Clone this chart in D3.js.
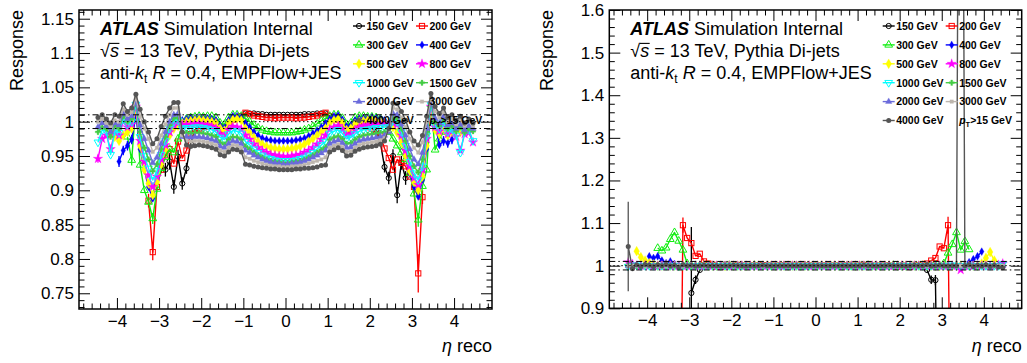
<!DOCTYPE html>
<html>
<head>
<meta charset="utf-8">
<script src="https://cdn.jsdelivr.net/npm/d3@7"></script>
<style>
  body { margin: 0; background: #fff; }
  svg text { font-family: "Liberation Sans", Arial, Helvetica, sans-serif; }
</style>
</head>
<body>
<svg id="chart" width="1027" height="363"></svg>
<script>
const _ = null;

// eta bin centres (0.1 wide bins)
const etaCenters = [
  -4.45,-4.35,-4.25,-4.15,-4.05,-3.95,-3.85,-3.75,-3.65,-3.55,
  -3.45,-3.35,-3.25,-3.15,-3.05,-2.95,-2.85,-2.75,-2.65,-2.55,
  -2.45,-2.35,-2.25,-2.15,-2.05,-1.95,-1.85,-1.75,-1.65,-1.55,
  -1.45,-1.35,-1.25,-1.15,-1.05,-0.95,-0.85,-0.75,-0.65,-0.55,
  -0.45,-0.35,-0.25,-0.15,-0.05, 0.05, 0.15, 0.25, 0.35, 0.45,
   0.55, 0.65, 0.75, 0.85, 0.95, 1.05, 1.15, 1.25, 1.35, 1.45,
   1.55, 1.65, 1.75, 1.85, 1.95, 2.05, 2.15, 2.25, 2.35, 2.45,
   2.55, 2.65, 2.75, 2.85, 2.95, 3.05, 3.15, 3.25, 3.35, 3.45,
   3.55, 3.65, 3.75, 3.85, 3.95, 4.05, 4.15, 4.25, 4.35, 4.45
];

const ptLabels = ["150 GeV","200 GeV","300 GeV","400 GeV","500 GeV","800 GeV",
                  "1000 GeV","1500 GeV","2000 GeV","3000 GeV","4000 GeV"];

const xTicks = [-4,-3,-2,-1,0,1,2,3,4];
const yTicksResp = [0.75,0.8,0.85,0.9,0.95,1,1.05,1.1,1.15];
const yTicksClos = [0.9,1,1.1,1.2,1.3,1.4,1.5,1.6];
const bandLines = [0.99, 1.01];
const unityLine = 1;

// ---------- response after EMPFlow+JES ----------
const resp150 = [_,_,_,_,_,_,_,_,_,_, _,_,_,_,_,
  0.935,0.930,0.942,0.905,0.949, 0.910,0.932,0.968,0.988,0.995, 0.998,0.999,1.000,0.999,0.994,
  0.992,1.000,1.004,1.006,1.008, 1.012,1.012,1.012,1.011,1.011, 1.010,1.010,1.010,1.010,1.010,
  1.010,1.010,1.010,1.010,1.011, 1.011,1.011,1.012,1.012,1.012, 1.008,1.006,1.004,1.000,0.992,
  0.994,0.999,1.000,0.999,0.998, 0.994,0.988,0.970,0.934,0.918, 0.950,0.893,0.940,0.918,0.930,
  _,_,_,_,_,_,_,_,_,_, _,_,_,_,_];
const resp200 = [_,_,_,_,_,_,_,_,_,_, _,_,
  0.885,0.810,0.905,0.930,0.951, 0.960,0.939,0.971,0.947,0.958, 0.982,0.988,0.990,0.992,0.993,
  0.994,0.994,0.988,0.985,0.995, 1.003,1.006,1.008,1.013,1.011, 1.009,1.008,1.007,1.006,1.006,
  1.005,1.006,1.006,
  1.006,1.006,1.005,1.006,1.006, 1.007,1.008,1.009,1.011,1.013, 1.008,1.005,1.003,0.996,0.986,
  0.988,0.993,0.994,0.993,0.992, 0.990,0.986,0.980,0.961,0.947, 0.930,0.945,0.940,0.935,0.920,
  0.905,0.779,0.890,
  _,_,_,_,_,_,_,_,_,_, _,_];
const resp300 = [_,_,_,_,_,_,_,
  0.978,0.944,1.025,0.937,0.900, 0.883,0.859,0.902,0.932,0.948, 0.960,0.955,0.975,0.995,1.004,
  1.006,1.007,1.008,1.007,1.008, 1.008,1.006,0.998,0.996,1.006, 1.010,1.010,1.008,1.005,1.000,
  0.995,0.991,0.988,0.986,0.985, 0.984,0.984,0.984,
  0.984,0.984,0.985,0.986,0.988, 0.990,0.993,0.997,1.001,1.005, 1.008,1.010,1.010,1.005,0.996,
  0.998,1.006,1.008,1.008,1.007, 1.007,1.006,1.004,1.000,0.985, 0.975,0.965,0.955,0.945,0.925,
  0.895,0.857,0.906,0.930,1.025, 0.959,0.975,0.985,
  _,_,_,_,_,_,_];
const resp400 = [_,_,_,_,_,
  0.942,0.958,0.965,0.974,1.010, 0.960,0.930,0.905,0.888,0.918, 0.945,0.965,0.982,0.993,0.998,
  1.002,1.004,1.005,1.005,1.006, 1.005,1.005,1.004,1.002,0.994, 0.991,1.002,1.008,1.008,1.006,
  0.998,0.992,0.985,0.980,0.976, 0.974,0.973,0.972,0.972,0.972,
  0.972,0.972,0.973,0.974,0.976, 0.979,0.983,0.987,0.992,0.998, 1.004,1.008,1.009,1.003,0.993,
  0.995,1.002,1.004,1.005,1.005, 1.006,1.005,1.004,1.002,0.998, 0.994,0.985,0.970,0.950,0.925,
  0.905,0.891,0.915,0.960,1.015, 0.998,0.966,0.972,0.969,0.974,
  _,_,_,_,_];
const resp500 = [_,_,
  0.990,0.982,0.978,0.972,0.980, 0.985,0.990,1.018,0.965,0.930, 0.910,0.893,0.912,0.938,0.960,
  0.980,0.990,0.994,0.998,1.000, 1.001,1.002,1.003,1.002,1.001, 1.000,0.998,0.990,0.987,0.998,
  1.003,1.004,1.002,0.990,0.984, 0.977,0.971,0.967,0.964,0.962, 0.961,0.960,0.960,
  0.960,0.961,0.962,0.964,0.967, 0.971,0.975,0.980,0.985,0.990, 0.998,1.002,1.004,0.998,0.988,
  0.990,0.997,1.000,1.001,1.002, 1.002,1.001,1.000,0.998,0.995, 0.992,0.984,0.970,0.950,0.928,
  0.912,0.900,0.920,0.965,1.018, 0.988,0.982,0.990,0.980,0.985, 0.990,0.985,0.988,
  _,_];
const resp800 = [
  0.946,0.975,0.980,0.960,0.985, 0.980,1.000,0.992,0.996,1.022, 0.972,0.942,0.922,0.905,0.920,
  0.945,0.966,0.985,0.995,0.998, 0.995,0.996,0.996,0.997,0.997, 0.996,0.995,0.993,0.990,0.982,
  0.979,0.988,0.993,0.992,0.989, 0.980,0.974,0.967,0.962,0.958, 0.955,0.952,0.951,0.950,0.949,
  0.949,0.950,0.951,0.952,0.955, 0.958,0.962,0.967,0.974,0.980, 0.989,0.992,0.994,0.989,0.980,
  0.982,0.988,0.992,0.994,0.995, 0.996,0.997,0.997,0.997,0.996, 0.998,0.996,0.980,0.958,0.935,
  0.918,0.908,0.930,0.975,1.022, 0.992,0.986,0.996,0.982,0.986, 0.978,0.958,0.982,0.984,0.970];
const resp1000 = [
  0.970,0.988,0.986,0.952,0.986, 0.984,1.004,0.996,1.000,1.025, 0.978,0.950,0.932,0.915,0.928,
  0.952,0.972,0.990,1.000,1.002, 0.990,0.991,0.991,0.992,0.992, 0.991,0.990,0.988,0.985,0.977,
  0.974,0.982,0.987,0.986,0.983, 0.971,0.966,0.960,0.955,0.951, 0.948,0.946,0.944,0.943,0.943,
  0.943,0.943,0.944,0.946,0.948, 0.951,0.955,0.960,0.966,0.971, 0.983,0.986,0.988,0.983,0.975,
  0.977,0.982,0.986,0.988,0.989, 0.990,0.991,0.991,0.992,0.992, 1.002,1.000,0.985,0.965,0.942,
  0.925,0.915,0.935,0.980,1.025, 0.995,0.990,1.000,0.985,0.990, 0.980,0.955,0.985,0.988,0.972];
const resp1500 = [
  0.985,0.992,0.990,0.978,0.994, 0.990,1.008,1.000,1.004,1.028, 0.985,0.962,0.945,0.928,0.938,
  0.960,0.978,0.995,1.005,1.006, 0.984,0.984,0.983,0.984,0.984, 0.983,0.982,0.980,0.978,0.970,
  0.967,0.974,0.978,0.977,0.974, 0.964,0.960,0.955,0.951,0.948, 0.945,0.943,0.942,0.941,0.940,
  0.940,0.941,0.942,0.943,0.945, 0.948,0.951,0.955,0.959,0.963, 0.974,0.977,0.979,0.975,0.968,
  0.969,0.974,0.978,0.980,0.981, 0.982,0.983,0.984,0.985,0.985, 1.006,1.004,0.990,0.972,0.950,
  0.935,0.926,0.945,0.985,1.028, 1.000,0.994,1.004,0.990,0.994, 0.986,0.992,0.984,0.990,0.986];
const resp2000 = [
  0.992,0.998,0.994,0.985,0.998, 0.995,1.012,1.004,1.008,1.030, 0.995,0.975,0.958,0.940,0.948,
  0.968,0.985,1.000,1.010,1.012, 0.978,0.978,0.977,0.978,0.978, 0.977,0.976,0.974,0.972,0.964,
  0.962,0.968,0.972,0.971,0.968, 0.958,0.955,0.951,0.948,0.945, 0.943,0.941,0.940,0.939,0.938,
  0.938,0.939,0.940,0.941,0.943, 0.945,0.948,0.951,0.954,0.958, 0.968,0.971,0.973,0.969,0.962,
  0.963,0.968,0.972,0.974,0.975, 0.976,0.977,0.978,0.980,0.985, 1.012,1.010,0.996,0.980,0.960,
  0.945,0.938,0.955,0.990,1.030, 1.005,0.998,1.008,0.995,0.998, 0.990,0.996,0.988,0.994,0.990];
const resp3000 = [
  1.000,1.004,0.998,0.992,1.002, 1.000,1.018,1.010,1.014,1.035, 1.008,0.990,0.975,0.956,0.962,
  0.980,0.996,1.010,1.020,1.020, 0.980,0.972,0.971,0.972,0.972, 0.971,0.970,0.968,0.966,0.958,
  0.956,0.962,0.966,0.965,0.962, 0.948,0.946,0.943,0.941,0.939, 0.937,0.936,0.935,0.935,0.934,
  0.934,0.935,0.935,0.936,0.937, 0.939,0.941,0.943,0.945,0.948, 0.962,0.965,0.967,0.963,0.956,
  0.957,0.962,0.966,0.968,0.969, 0.970,0.971,0.973,0.976,0.988, 1.020,1.018,1.006,0.992,0.975,
  0.962,0.955,0.970,1.000,1.035, 1.015,1.006,1.014,1.000,1.004, 0.996,1.002,0.994,1.000,0.994];
const resp4000 = [
  1.006,1.010,1.004,0.998,1.010, 1.008,1.026,1.015,1.020,1.040, 1.018,1.000,0.985,0.968,0.975,
  0.993,1.008,1.020,1.028,1.028, 0.985,0.966,0.964,0.965,0.966, 0.965,0.964,0.962,0.960,0.952,
  0.950,0.956,0.960,0.959,0.956, 0.938,0.937,0.935,0.934,0.933, 0.932,0.931,0.931,0.930,0.930,
  0.930,0.930,0.931,0.931,0.932, 0.932,0.933,0.934,0.936,0.937, 0.956,0.959,0.962,0.958,0.950,
  0.951,0.957,0.960,0.962,0.963, 0.964,0.965,0.967,0.972,0.990, 1.027,1.026,1.015,1.002,0.985,
  0.972,0.966,0.980,1.008,1.041, 1.022,1.012,1.020,1.006,1.010, 1.002,1.008,0.998,1.004,0.998];

// ---------- closure after the residual correction ----------
const clos150 = [_,_,_,_,_,_,_,_,_,_, _,_,_,_,_,
  0.936,0.967,0.990,1.002,1.003, 1.001,0.999,1,1.001,1, 0.999,1,1.001,1,0.999,
  1,1.001,1,1,0.999, 1,1,1.001,1,1, 1,0.999,1,1,1,
  1,1,1,0.999,1, 1,1.001,1,1,1, 1,1,0.999,1,1.001,
  1,1,0.999,1,1, 1.001,1,1,0.999,1.001, 1.003,0.990,0.967,0.966,0.300,
  _,_,_,_,_,_,_,_,_,_, _,_,_,_,_];
const clos200 = [_,_,_,_,_,_,_,_,_,_, _,_,
  0.200,1.095,1.065,1.053,1.023, 1.028,1.010,1.005,1.002,0.998, 0.997,1,0.999,
  1,1.001,1,0.999,1, 1,1,1.001,1,1, 1,1,1,1,1, 1,1,1,1,1,
  1,1,1,1,1, 1,1,1,1,1, 1,1.001,1,1,0.999, 1,1,1,0.999,0.998,
  1,0.998,0.997,1,1.001, 1.002,1.005,1.012,1.018,1.045, 1.041,1.095,0.200,
  _,_,_,_,_,_,_,_,_,_, _,_];
const clos300 = [_,_,_,_,_,_,_,
  1.041,1.035,1.042,1.062,1.078, 1.058,1.037,1.005,1.000,0.998,
  0.999,1,1.001,1,0.999, 1,1,1.001,1,1, 0.999,1,1,1.001,1, 1,1,1,0.999,1, 1,1,1,1,1, 1,1,1,
  1,1,1,1,1, 1,1,1,1,1, 1,1,1.001,1,0.999, 1,1,1,1.001,1, 1,1,0.999,1,1, 1,1,1.001,1.002,1,
  1.005,1.030,1.050,1.078,1.037, 1.057,1.038,
  _,_,_,_,_,_,_,_];
const clos400 = [_,_,_,_,_,
  1.022,1.018,1.022,1.012,1.006, 1.010,1.004,1.001,1.000,
  1,1,0.999,1,1, 1.001,1,1,1,0.999, 1,1,1,1.001,1, 1,1,1,1,0.999, 1,1,1,1,1, 1,1,1,1,1, 1,
  1,1,1,1,1, 1,1,1,1,1, 1,1,1,1,1, 1.001,1,1,1,1, 0.999,1,1,1,1, 1,1,1,1.001,1, 1,1,1,1,
  1.000,1.002,1.008,1.015,1.022, 1.033,
  _,_,_,_,_];
const clos500 = [_,_,
  1.034,1.020,1.012,1.006,1.003,
  1,1,1.001,1,1, 0.999,1,1,1,1, 1,1.001,1,1,1, 1,0.999,1,1,1, 1,1,1,1,1, 1,1,1,1,1, 1,1,1,1,1, 1,1,1,
  1,1,1,1,1, 1,1,1,1,1, 1,1,1,1,1, 1,1,1,1,1, 1,1,1,1,1, 1.001,1,1,1,0.999, 1,1,1,1,1, 1,1,1,1,
  1.005,1.018,1.032,1.012,
  _,_];
const clos800 = [
  1.008,1.004,1,1,1.001, 1,1,0.999,1,1, 1,1,1,1,1, 1,1,1,1,1, 1,1,1,1,1, 1,1,1,1,1,
  1,1,1,1,1, 1,1,1,1,1, 1,1,1,1,1,
  1,1,1,1,1, 1,1,1,1,1, 1,1,1,1,1, 1,1,1,1,1, 1,1,1,1,1, 1,1,1,1,1,
  1,1,1,1,0.990, 1,1,1,1,1, 1,1,1,1.002,1.005];
const clos1000 = [
  0.998,1,1.001,1,1, 1,1,1,1,1, 1,1,0.999,1,1, 1,1,1,1,1, 1,1,1,1,1, 1,1,1,1,1,
  1,1,1,1,1, 1,1,1,1,1, 1,1,1,1,1,
  1,1,1,1,1, 1,1,1,1,1, 1,1,1,1,1, 1,1,1,1,1, 1,1,1,1,1, 1,1,1,1,1,
  1,1,1.001,1,1, 1,1,1,1,1, 1,1,1,1,1.004];
const clos1500 = [
  1.001,1,0.999,1,1, 1,1,1,1,1, 1,1,1,1,1, 1,1,1.001,1,1, 1,1,1,1,1, 1,1,1,1,1,
  1,1,1,1,1, 1,1,1,1,1, 1,1,1,1,1,
  1,1,1,1,1, 1,1,1,1,1, 1,1,1,1,1, 1,1,1,1,1, 1,1,1,1,1, 1,1,1,1,1,
  1,1,1,1,1, 1,1,1,1,1, 1,1,1,1,1];
const clos2000 = [
  0.999,1,1,1,1.001, 1,1,1,1,1, 1,1,1,1,1, 1,1,1,1,1, 1,1,1,1,1, 1,1,1,1,1,
  1,1,1,1,1, 1,1,1,1,1, 1,1,1,1,1,
  1,1,1,1,1, 1,1,1,1,1, 1,1,1,1,1, 1,1,1,1,1, 1,1,1,1,1, 1,1,1,1,1,
  1,1,1,1,1, 1,1,1,1,1, 1,1,1,1,1];
const clos3000 = [
  1,1,1,0.999,1, 1,1,1,1,1, 1,1,1,1,1, 1,1,1,1,1, 1,1,1,1,1, 1,1,1,1,1,
  1,1,1,1,1, 1,1,1,1,1, 1,1,1,1,1,
  1,1,1,1,1, 1,1,1,1,1, 1,1,1,1,1, 1,1,1,1,1, 1,1,1,1,1, 1,1,1,1,1,
  1,1,1,1,1, 1,1,1,1,1, 1,1,0.999,1,1];
const clos4000 = [
  1.045,0.993,1.002,0.998,1.003, 1.001,0.998,1.002,1.000,1.003, 0.999,1.001,0.997,1.002,1.000,
  1.001,0.999,1.000,1.001,0.999, 1.000,1.000,0.999,1.000,1.000, 1.001,1.000,1.000,0.999,1.000,
  1.000,1.000,1.001,1.000,1.000, 1.000,1.000,1.000,1.000,1.000, 1.000,1.000,1.000,1.000,1.000,
  1,1,1,1,1, 1,1,1,1,1, 1,1.001,1,1,0.999, 1,1,1.001,1,1, 1,0.999,1,1.001,1, 1,1.002,0.999,1,1.001,
  1,0.999,1,1,3.200, 1,1.002,0.998,1.001,0.999, 1.002,0.998,1.001,0.997,0.995];

// selected statistical uncertainties: [series, eta, error]
const respErrors = [
  ["150 GeV",-2.95,0.010],["150 GeV",-2.85,0.010],["150 GeV",-2.75,0.012],["150 GeV",-2.65,0.010],
  ["150 GeV",-2.55,0.010],["150 GeV",-2.45,0.009],["150 GeV",-2.35,0.008],
  ["150 GeV",2.35,0.008],["150 GeV",2.45,0.009],["150 GeV",2.55,0.010],["150 GeV",2.65,0.012],
  ["150 GeV",2.75,0.010],["150 GeV",2.85,0.010],["150 GeV",2.95,0.010],
  ["200 GeV",-3.25,0.010],["200 GeV",-3.15,0.012],["200 GeV",3.15,0.028],["200 GeV",3.25,0.010],
  ["300 GeV",-3.15,0.008],["300 GeV",3.15,0.010],["300 GeV",-3.65,0.008],
  ["400 GeV",-3.95,0.008],["400 GeV",-3.85,0.007],["400 GeV",-3.75,0.007],["400 GeV",-3.65,0.007],
  ["400 GeV",3.75,0.007],["400 GeV",3.85,0.007],["400 GeV",3.95,0.007],
  ["800 GeV",-4.45,0.006]
];
const closErrors = [
  ["4000 GeV",-4.45,0.105],["150 GeV",-2.95,0.155],["150 GeV",-2.85,0.010],
  ["200 GeV",-3.15,0.018],["200 GeV",3.15,0.020],["150 GeV",2.75,0.010],["150 GeV",2.85,0.012]
];

// ---------- styling ----------
const seriesStyle = {
  "150 GeV":  {color:"#000000", marker:"openCircle"},
  "200 GeV":  {color:"#ff0000", marker:"openSquare"},
  "300 GeV":  {color:"#11ee11", marker:"openTriUp"},
  "400 GeV":  {color:"#0000ff", marker:"diamondSmall"},
  "500 GeV":  {color:"#ffff00", marker:"diamond"},
  "800 GeV":  {color:"#ff00ff", marker:"star"},
  "1000 GeV": {color:"#00ffff", marker:"openTriDown"},
  "1500 GeV": {color:"#44cc44", marker:"plus"},
  "2000 GeV": {color:"#6b6bdb", marker:"triUp"},
  "3000 GeV": {color:"#bdb6ae", marker:"square"},
  "4000 GeV": {color:"#555555", marker:"circle"}
};

const panels = [
  { x0:79, x1:492, y0:10, y1:309, yDomain:[0.7271,1.1627], yTicks:yTicksResp, yMinorStep:0.01, yMajorStep:0.05,
    series:[resp150,resp200,resp300,resp400,resp500,resp800,resp1000,resp1500,resp2000,resp3000,resp4000],
    errors:respErrors },
  { x0:609.3, x1:1021.7, y0:10, y1:308.3, yDomain:[0.9,1.6], yTicks:yTicksClos, yMinorStep:0.02, yMajorStep:0.1,
    series:[clos150,clos200,clos300,clos400,clos500,clos800,clos1000,clos1500,clos2000,clos3000,clos4000],
    errors:closErrors }
];

const svg = d3.select("#chart");
const FONT = '"Liberation Sans", Arial, Helvetica, sans-serif';

function markerPath(type) {
  const S = d3.symbol();
  switch (type) {
    case "openTriUp":    return S.type(d3.symbolTriangle).size(26)();
    case "openTriDown":  return S.type(d3.symbolTriangle).size(26)();
    case "diamondSmall": return S.type(d3.symbolDiamond).size(18)();
    case "diamond":      return S.type(d3.symbolDiamond).size(28)();
    case "star":         return S.type(d3.symbolStar).size(28)();
    case "plus":         return S.type(d3.symbolCross).size(16)();
    case "triUp":        return S.type(d3.symbolTriangle).size(18)();
    case "square":       return S.type(d3.symbolSquare).size(12)();
    default: return null;
  }
}

function drawMarker(g, type, color, x, y) {
  if (type === "openCircle") {
    g.append("circle").attr("cx",x).attr("cy",y).attr("r",2.6)
      .attr("fill","none").attr("stroke",color).attr("stroke-width",1);
  } else if (type === "openSquare") {
    g.append("rect").attr("x",x-2.6).attr("y",y-2.6).attr("width",5.2).attr("height",5.2)
      .attr("fill","none").attr("stroke",color).attr("stroke-width",1);
  } else if (type === "circle") {
    g.append("circle").attr("cx",x).attr("cy",y).attr("r",2.5).attr("fill",color);
  } else {
    const open = type.startsWith("open");
    const rot = type === "openTriDown" ? " rotate(180)" : "";
    g.append("path").attr("d", markerPath(type))
      .attr("transform", `translate(${x},${y})${rot}`)
      .attr("fill", open ? "none" : color)
      .attr("stroke", color).attr("stroke-width", open ? 1 : 0.3);
  }
}

panels.forEach((p, pi) => {
  p.series.forEach((s, si) => {
    if (s.length !== etaCenters.length) throw new Error(`panel ${pi} series ${ptLabels[si]} has ${s.length} values`);
  });

  const x = d3.scaleLinear().domain([-4.9, 4.9]).range([p.x0, p.x1]);
  const y = d3.scaleLinear().domain(p.yDomain).range([p.y1, p.y0]);
  const g = svg.append("g");

  const clipId = "clip" + pi;
  svg.append("clipPath").attr("id", clipId).append("rect")
    .attr("x", p.x0).attr("y", p.y0).attr("width", p.x1 - p.x0).attr("height", p.y1 - p.y0);

  const plot = g.append("g").attr("clip-path", `url(#${clipId})`);
  const line = d3.line()
    .defined(v => v !== null)
    .x((v, i) => x(etaCenters[i]))
    .y(v => y(v));

  p.series.forEach((vals, si) => {
    const name = ptLabels[si];
    const st = seriesStyle[name];
    const sg = plot.append("g");
    sg.append("path").datum(vals).attr("d", line)
      .attr("fill","none").attr("stroke", st.color).attr("stroke-width", 1.4)
      .attr("stroke-linejoin","round");
    p.errors.filter(e => e[0] === name).forEach(e => {
      const i = etaCenters.findIndex(c => Math.abs(c - e[1]) < 1e-6);
      if (i < 0 || vals[i] === null) return;
      sg.append("line").attr("x1", x(e[1])).attr("x2", x(e[1]))
        .attr("y1", y(vals[i] - e[2])).attr("y2", y(vals[i] + e[2]))
        .attr("stroke", st.color).attr("stroke-width", 1.3);
    });
    vals.forEach((v, i) => {
      if (v === null) return;
      drawMarker(sg, st.marker, st.color, x(etaCenters[i]), y(v));
    });
  });

  // reference lines at 1 +- 1%
  bandLines.forEach(v => {
    g.append("line").attr("x1", p.x0).attr("x2", p.x1).attr("y1", y(v)).attr("y2", y(v))
      .attr("stroke","#000").attr("stroke-width",1).attr("stroke-dasharray","6,3,1.5,3");
  });
  g.append("line").attr("x1", p.x0).attr("x2", p.x1).attr("y1", y(unityLine)).attr("y2", y(unityLine))
    .attr("stroke","#000").attr("stroke-width",1).attr("stroke-dasharray","1.5,2.5");

  // axes
  const xMinor = d3.range(-4.8, 4.81, 0.2).map(v => +v.toFixed(2)).filter(v => Math.abs(v - Math.round(v)) > 1e-6);
  const nMin = Math.ceil(p.yDomain[0] / p.yMinorStep - 1e-6), nMax = Math.floor(p.yDomain[1] / p.yMinorStep + 1e-6);
  const yMinor = d3.range(nMin, nMax + 1).map(k => +(k * p.yMinorStep).toFixed(3))
    .filter(v => Math.abs(v / p.yMajorStep - Math.round(v / p.yMajorStep)) > 1e-6);

  const styleAxis = sel => {
    sel.select(".domain").remove();
    sel.selectAll("line").attr("stroke","#000").attr("stroke-width",1);
    sel.selectAll("text").attr("font-family", FONT).attr("font-size", 17).attr("fill","#000");
  };
  const yFmt = v => String(+v.toFixed(2));

  g.append("g").attr("transform",`translate(0,${p.y1})`)
    .call(d3.axisBottom(x).tickValues(xTicks).tickSize(-11).tickPadding(6).tickFormat(d3.format("d"))).call(styleAxis);
  g.append("g").attr("transform",`translate(0,${p.y1})`)
    .call(d3.axisBottom(x).tickValues(xMinor).tickSize(-5.5).tickFormat("")).call(styleAxis);
  g.append("g").attr("transform",`translate(0,${p.y0})`)
    .call(d3.axisTop(x).tickValues(xTicks).tickSize(-11).tickFormat("")).call(styleAxis);
  g.append("g").attr("transform",`translate(0,${p.y0})`)
    .call(d3.axisTop(x).tickValues(xMinor).tickSize(-5.5).tickFormat("")).call(styleAxis);
  g.append("g").attr("transform",`translate(${p.x0},0)`)
    .call(d3.axisLeft(y).tickValues(p.yTicks).tickSize(-11).tickPadding(5).tickFormat(yFmt)).call(styleAxis);
  g.append("g").attr("transform",`translate(${p.x0},0)`)
    .call(d3.axisLeft(y).tickValues(yMinor).tickSize(-5.5).tickFormat("")).call(styleAxis);
  g.append("g").attr("transform",`translate(${p.x1},0)`)
    .call(d3.axisRight(y).tickValues(p.yTicks).tickSize(-11).tickFormat("")).call(styleAxis);
  g.append("g").attr("transform",`translate(${p.x1},0)`)
    .call(d3.axisRight(y).tickValues(yMinor).tickSize(-5.5).tickFormat("")).call(styleAxis);

  g.append("rect").attr("x", p.x0).attr("y", p.y0).attr("width", p.x1 - p.x0).attr("height", p.y1 - p.y0)
    .attr("fill","none").attr("stroke","#000").attr("stroke-width",1.5);

  // axis titles
  g.append("text").attr("transform", `translate(${p.x0 - 56},${p.y0}) rotate(-90)`)
    .attr("text-anchor","end").attr("font-size",18).text("Response");
  const xt = g.append("text").attr("x", p.x1).attr("y", 352).attr("text-anchor","end").attr("font-size",18);
  xt.append("tspan").attr("font-style","italic").text("η");
  xt.append("tspan").text(" reco");

  // labels
  const tx = p.x0 + 21;
  const l1 = g.append("text").attr("x", tx).attr("y", 35).attr("font-size", 18);
  l1.append("tspan").attr("font-weight","bold").attr("font-style","italic").text("ATLAS");
  l1.append("tspan").text(" Simulation Internal");

  const l2 = g.append("text").attr("x", tx).attr("y", 57).attr("font-size", 18);
  l2.append("tspan").text("√");
  l2.append("tspan").attr("font-style","italic").text("s");
  l2.append("tspan").text(" = 13 TeV, Pythia Di-jets");
  const n2 = l2.node();
  const sx0 = n2.getStartPositionOfChar(1).x, sx1 = n2.getEndPositionOfChar(1).x;
  g.append("line").attr("x1", sx0 - 0.5).attr("x2", sx1 + 0.5).attr("y1", 57 - 13.6).attr("y2", 57 - 13.6)
    .attr("stroke","#000").attr("stroke-width",1.1);

  const l3 = g.append("text").attr("x", tx).attr("y", 79).attr("font-size", 18);
  l3.append("tspan").text("anti-");
  l3.append("tspan").attr("font-style","italic").text("k");
  l3.append("tspan").attr("font-size", 12).attr("dy", 4).text("t");
  l3.append("tspan").attr("dy", -4).text(" ");
  l3.append("tspan").attr("font-style","italic").text("R");
  l3.append("tspan").text(" = 0.4, EMPFlow+JES");

  // legend
  const legCols = [p.x1 - 133, p.x1 - 70];
  ptLabels.forEach((name, k) => {
    const col = k % 2, row = Math.floor(k / 2);
    const mx = legCols[col], my = 26 + 18.9 * row;
    const st = seriesStyle[name];
    g.append("line").attr("x1", mx - 6).attr("x2", mx + 6).attr("y1", my).attr("y2", my)
      .attr("stroke", st.color).attr("stroke-width", 1.4);
    drawMarker(g, st.marker, st.color, mx, my);
    g.append("text").attr("x", mx + 7.5).attr("y", my + 3.8).attr("font-size", 10.5)
      .attr("font-weight","bold").text(name);
  });
  const ptCut = g.append("text").attr("x", legCols[1] + 7.5).attr("y", 26 + 18.9 * 5 + 3.8)
    .attr("font-size", 10.5).attr("font-weight","bold");
  ptCut.append("tspan").attr("font-style","italic").text("p");
  ptCut.append("tspan").attr("font-size", 7.5).attr("dy", 3).text("T");
  ptCut.append("tspan").attr("dy", -3).text(">15 GeV");
});
</script>
</body>
</html>
